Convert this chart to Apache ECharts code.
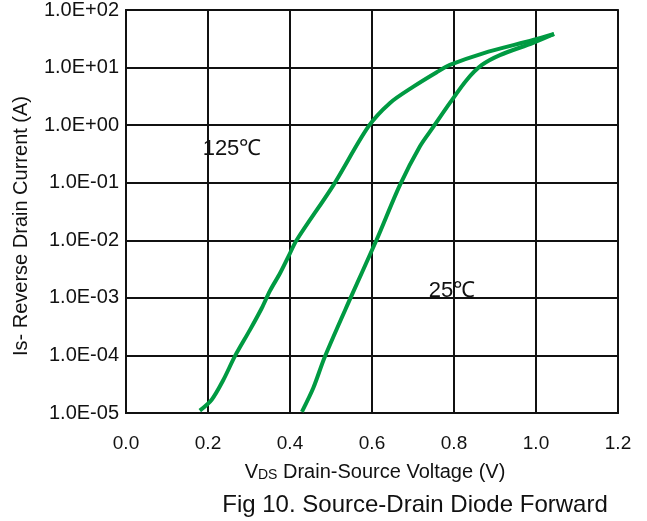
<!DOCTYPE html>
<html>
<head>
<meta charset="utf-8">
<script src="https://cdn.jsdelivr.net/npm/echarts@6/dist/echarts.min.js"></script>
<style>
  html, body { margin: 0; padding: 0; background: #fff; }
  #chart { width: 647px; height: 521px; }
</style>
</head>
<body>
<div id="chart"></div>
<script>
// values: [VDS (V), Is (A)]
var curve125 = [
  [0.180, 1.1e-5], [0.209, 1.7e-5], [0.237, 3.7e-5], [0.266, 9.8e-5],
  [0.302, 2.75e-4], [0.331, 6.6e-4], [0.351, 1.32e-3], [0.376, 2.7e-3],
  [0.396, 5.2e-3], [0.416, 1.0e-2], [0.506, 9.1e-2], [0.591, 0.94],
  [0.644, 2.43], [0.701, 4.66], [0.758, 8.3], [0.790, 11.1],
  [0.871, 17.7], [0.993, 30.1], [1.044, 38.3]
];
var curve25 = [
  [0.429, 1.05e-5], [0.457, 2.75e-5], [0.485, 9.5e-5], [0.546, 9.4e-4],
  [0.611, 1.01e-2], [0.668, 9.1e-2], [0.717, 0.43], [0.750, 0.94],
  [0.790, 2.43], [0.831, 6.1], [0.868, 11.1], [0.912, 16.5],
  [0.993, 26.9], [1.044, 38.3]
];
var seriesNames = ['125℃', '25℃'];
var xTicks = [0, 0.2, 0.4, 0.6, 0.8, 1.0, 1.2];
var xTickLabels = ['0.0', '0.2', '0.4', '0.6', '0.8', '1.0', '1.2'];
var yTicks = [1e-5, 1e-4, 1e-3, 1e-2, 1e-1, 1, 10, 100];
var yTickLabels = ['1.0E-05', '1.0E-04', '1.0E-03', '1.0E-02', '1.0E-01', '1.0E+00', '1.0E+01', '1.0E+02'];

var font = '"Liberation Sans", Arial, sans-serif';
var green = '#009a42';

function nearestLabel(v, ticks, labels, isLog) {
  var best = 0;
  for (var i = 0; i < ticks.length; i++) {
    var d = isLog ? Math.abs(Math.log10(v) - Math.log10(ticks[i])) : Math.abs(v - ticks[i]);
    var b = isLog ? Math.abs(Math.log10(v) - Math.log10(ticks[best])) : Math.abs(v - ticks[best]);
    if (d < b) best = i;
  }
  return labels[best];
}

var chart = echarts.init(document.getElementById('chart'));
chart.setOption({
  animation: false,
  grid: {
    left: 126, top: 10, width: 492, height: 403,
    show: true, borderColor: '#333', borderWidth: 2
  },
  xAxis: {
    type: 'value', min: 0, max: 1.2, interval: 0.2,
    axisLine: { show: true, lineStyle: { color: '#111', width: 2 } },
    axisTick: { show: false },
    axisLabel: {
      margin: 21, color: '#111', fontSize: 19, fontFamily: font,
      formatter: function (v) { return nearestLabel(v, xTicks, xTickLabels, false); }
    },
    splitLine: { show: true, lineStyle: { color: '#111', width: 2 } }
  },
  yAxis: {
    type: 'log', logBase: 10, min: 1e-5, max: 100,
    axisLine: { show: true, lineStyle: { color: '#111', width: 2 } },
    axisTick: { show: false },
    axisLabel: {
      margin: 7, color: '#111', fontSize: 20, fontFamily: font,
      formatter: function (v) { return nearestLabel(v, yTicks, yTickLabels, true); }
    },
    splitLine: { show: true, lineStyle: { color: '#111', width: 2 } },
    minorSplitLine: { show: false }
  },
  series: [
    {
      name: seriesNames[0], type: 'line', data: curve125, smooth: 0.3,
      showSymbol: false, lineStyle: { color: green, width: 4 }
    },
    {
      name: seriesNames[1], type: 'line', data: curve25, smooth: 0.3,
      showSymbol: false, lineStyle: { color: green, width: 4 }
    }
  ],
  graphic: [
    {
      type: 'text', x: 21, y: 226, rotation: Math.PI / 2,
      style: {
        text: 'Is- Reverse Drain Current (A)', fill: '#111', font: '20px ' + font,
        align: 'center', verticalAlign: 'middle'
      }
    },
    {
      type: 'text', x: 375, y: 472,
      style: {
        text: '{v|V}{s|DS}{v| Drain-Source Voltage (V)}',
        align: 'center', verticalAlign: 'middle',
        rich: {
          v: { fontSize: 20, fontFamily: font, fill: '#111', verticalAlign: 'bottom' },
          s: { fontSize: 14, fontFamily: font, fill: '#111', verticalAlign: 'bottom' }
        }
      }
    },
    {
      type: 'text', x: 415, y: 505,
      style: {
        text: 'Fig 10. Source-Drain Diode Forward', fill: '#111', font: '24px ' + font,
        align: 'center', verticalAlign: 'middle'
      }
    },
    {
      type: 'text', x: 232, y: 149,
      style: {
        text: seriesNames[0], fill: '#111', font: '22px ' + font,
        align: 'center', verticalAlign: 'middle'
      }
    },
    {
      type: 'text', x: 452, y: 291,
      style: {
        text: seriesNames[1], fill: '#111', font: '22px ' + font,
        align: 'center', verticalAlign: 'middle'
      }
    }
  ]
});
</script>
</body>
</html>
